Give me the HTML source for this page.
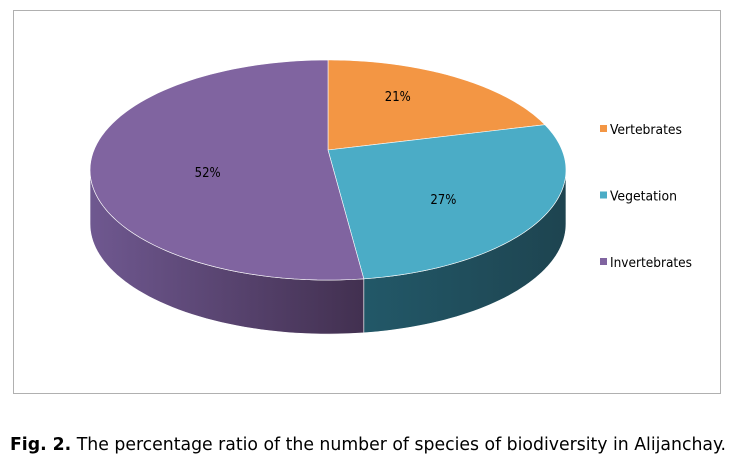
<!DOCTYPE html>
<html><head><meta charset="utf-8"><style>
body{margin:0;width:736px;height:463px;background:#fff;font-family:"Liberation Sans",sans-serif;overflow:hidden;position:relative}
#frame{position:absolute;left:13px;top:10px;width:708px;height:384px;border:1px solid #b0b0b0;box-sizing:border-box}
</style></head><body>
<div id="frame"></div>
<svg id="chart" width="736" height="463" style="position:absolute;left:0;top:0">
<defs>
<linearGradient id="gInv" x1="0" x2="1"><stop offset="0" stop-color="#6f5890"/><stop offset="1" stop-color="#423050"/></linearGradient>
<linearGradient id="gVeg" x1="0" x2="1"><stop offset="0" stop-color="#225868"/><stop offset="1" stop-color="#1e4450"/></linearGradient>
<linearGradient id="gVert" x1="0" x2="1"><stop offset="0" stop-color="#c06a20"/><stop offset="1" stop-color="#a05010"/></linearGradient>
</defs>
<g id="pie"></g>
<g id="legend"></g>
<text x="10" y="450" font-size="18" font-family="DejaVu Sans Condensed, DejaVu Sans, sans-serif" textLength="716" lengthAdjust="spacingAndGlyphs"><tspan font-weight="bold">Fig. 2.</tspan> The percentage ratio of the number of species of biodiversity in Alijanchay.</text>
</svg>
<script>
const categories=["Vertebrates","Vegetation","Invertebrates"];
const values=[21,27,52];
const labels=["21%","27%","52%"];
const colors=["#f39644","#4bacc6","#8064a0"];
const sideFills=["url(#gVert)","url(#gVeg)","url(#gInv)"];
const NS="http://www.w3.org/2000/svg";
const cx=328,cy=150,R=234,B=106.4,k=-0.182,depth=54;
const labelNudgeX=[-7,-4,16],labelNudgeY=[-8,13,19];
function pt(a,dy,r){r=r==null?1:r;const u=r*Math.sin(a),v=-r*Math.cos(a),d=1+k*v;return [cx+R*u/d,cy+B*v/d+(dy||0)];}
let aR=Math.PI/2,aL=3*Math.PI/2,mx=-1e9,mn=1e9;
for(let a=0;a<2*Math.PI;a+=0.002){const x=pt(a)[0];if(x>mx){mx=x;aR=a;}if(x<mn){mn=x;aL=a;}}
const g=document.getElementById('pie');
const total=values.reduce((a,b)=>a+b,0);
let acc=0;const angs=[];
values.forEach(v=>{const a0=acc/total*2*Math.PI;acc+=v;angs.push([a0,acc/total*2*Math.PI]);});
angs.forEach(([a0,a1],i)=>{
 const s=Math.max(a0,aR),e=Math.min(a1,aL);
 if(e<=s)return;
 let d="";const N=50;
 for(let q=0;q<=N;q++){const p=pt(s+(e-s)*q/N);d+=(q?"L":"M")+p[0]+","+p[1];}
 for(let q=N;q>=0;q--){const p=pt(s+(e-s)*q/N,depth);d+="L"+p[0]+","+p[1];}
 const path=document.createElementNS(NS,'path');
 path.setAttribute('d',d+"Z");path.setAttribute('fill',sideFills[i]);
 path.setAttribute('stroke','#fff');path.setAttribute('stroke-width','0.6');
 
 
 g.appendChild(path);
});
angs.forEach(([a0,a1],i)=>{
 let d="M"+cx+","+cy;const N=80;
 for(let q=0;q<=N;q++){const p=pt(a0+(a1-a0)*q/N);d+="L"+p[0]+","+p[1];}
 const path=document.createElementNS(NS,'path');
 path.setAttribute('d',d+"Z");path.setAttribute('fill',colors[i]);
 path.setAttribute('stroke','#fff');path.setAttribute('stroke-width','0.6');
 
 
 g.appendChild(path);
 const p=pt((a0+a1)/2,4,0.58);
 const t=document.createElementNS(NS,'text');
 t.setAttribute('x',p[0]+labelNudgeX[i]);t.setAttribute('y',p[1]+labelNudgeY[i]);t.setAttribute('text-anchor','middle');
 t.setAttribute('font-size','13');t.setAttribute('fill','#000');
 t.setAttribute('font-family','DejaVu Sans Condensed, DejaVu Sans, sans-serif');
 t.textContent=labels[i];
 
 
 g.appendChild(t);
});
const lg=document.getElementById('legend');
const legW=[72,67,82];
categories.forEach((c,i)=>{
 const y=130+i*66.5;
 const r=document.createElementNS(NS,'rect');
 r.setAttribute('x',600);r.setAttribute('y',y-5);r.setAttribute('width',7);r.setAttribute('height',7);r.setAttribute('fill',colors[i]);
 
 
 lg.appendChild(r);
 const t=document.createElementNS(NS,'text');
 t.setAttribute('x',610);t.setAttribute('y',y+4);t.setAttribute('font-size','13');t.setAttribute('fill','#000');
 t.setAttribute('font-family','DejaVu Sans Condensed, DejaVu Sans, sans-serif');
 t.setAttribute('textLength',legW[i]);t.setAttribute('lengthAdjust','spacingAndGlyphs');
 t.textContent=c;
 
 
 lg.appendChild(t);
});
</script>
</body></html>
